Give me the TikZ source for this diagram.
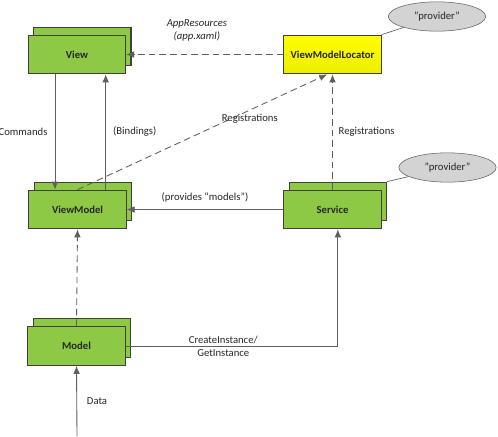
\documentclass[tikz,border=0pt]{standalone}
\usepackage{fontspec}
\setmainfont{Carlito}
\usetikzlibrary{arrows.meta,shapes.geometric,shadows}
\definecolor{boxgreen}{HTML}{8DC945}
\definecolor{boxgreendark}{HTML}{7DBB3A}
\definecolor{boxyellow}{HTML}{FFFF00}
\definecolor{boxyellowdark}{HTML}{EDED00}
\definecolor{boxline}{HTML}{404040}
\definecolor{linkgray}{HTML}{5F5F5F}
\definecolor{bubblegray}{HTML}{D3D3D3}
\begin{document}
\begin{tikzpicture}[x=0.75pt, y=-0.75pt,
          every node/.style = {font=\fontsize{8}{9.75}\selectfont, text=black!85},
          part/.style = {shape=rectangle, draw=boxline, line width=0.8pt, minimum width=73pt, minimum height=29pt, font=\fontsize{8}{9.75}\selectfont\bfseries},
          stacked/.style = {part, fill=boxgreen, copy shadow={shadow xshift=4pt, shadow yshift=6pt, fill=boxgreen, draw=boxline}},
          locator/.style = {part, top color=boxyellow, bottom color=boxyellowdark},
          bubble/.style = {shape=ellipse, draw=linkgray, fill=bubblegray, minimum width=73pt, minimum height=22pt, inner sep=0pt},
          link/.style = {draw=linkgray, line width=0.65pt, -{Latex[length=6pt, width=5pt]}},
          dashlink/.style = {link, dash pattern=on 5pt off 3pt},
          note/.style = {draw=linkgray, line width=0.5pt}]
          \useasboundingbox (0,0) rectangle (498,436);
          % the boxes
          \node[stacked] (View) at (77,54.5) {View};
          \node[locator] (Locator) at (332.5,54.5) {ViewModelLocator};
          \node[stacked] (ViewModel) at (77.5,209.5) {ViewModel};
          \node[stacked] (Service) at (332.5,209.5) {Service};
          \node[stacked] (Model) at (76.5,346) {Model};
          \node[bubble] (provA) at (437,16.5) {”provider”};
          \node[bubble] (provB) at (447.5,167.5) {”provider”};
          \coordinate (dataIn) at (77,436);
          % the links
          \draw[link] ([xshift=-16.5pt]View.south) -- ([xshift=-16.5pt]View.south |- ViewModel.north) node[midway, left=2pt] {Commands};
          \draw[link] ([xshift=21.5pt]View.south |- ViewModel.north) -- ([xshift=21.5pt]View.south) node[midway, right=2pt] {(Bindings)};
          \draw[dashlink] (Locator.west) -- (View.east) node[pos=0.55, above=6pt, align=center, font=\fontsize{8}{9.75}\selectfont\itshape] {AppResources\\(app.xaml)};
          \draw[dashlink] (ViewModel.north) -- ([xshift=-4pt]Locator.south) node[pos=0.69, yshift=-6.5pt] {Registrations};
          \draw[dashlink] (Service.north) -- (Locator.south) node[midway, right=1pt] {Registrations};
          \draw[link] (Service.west) -- (ViewModel.east) node[midway, above=2pt] {(provides “models”)};
          \draw[dashlink] (Model.north) -- (ViewModel.south);
          \draw[link] (Model.east) -| ([xshift=4pt]Service.south) node[pos=0.23, align=center] {CreateInstance/\\GetInstance};
          \draw[link] (dataIn) -- (Model.south) node[midway, right=4pt] {Data};
          % the notes
          \draw[note] (Locator.north east) -- (provA);
          \draw[note] ([shift={(4pt,6pt)}]Service.north east) -- (provB);
\end{tikzpicture}
\end{document}
